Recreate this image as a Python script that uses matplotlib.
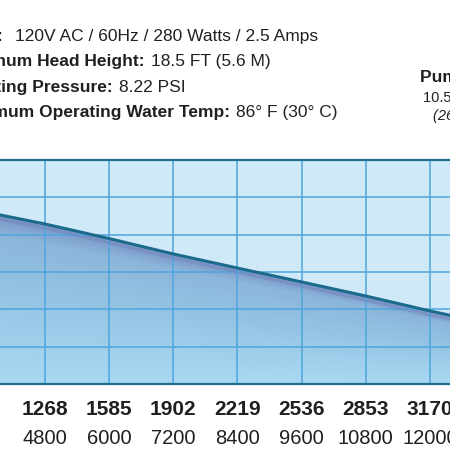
import numpy as np
import matplotlib
matplotlib.use('Agg')
import matplotlib.pyplot as plt
import matplotlib.patheffects as pe
from matplotlib.colors import LinearSegmentedColormap

# pump curve data (flow in GPH, head in feet)
gph = [951, 1268, 1585, 1902, 2219, 2536, 2853, 3170, 3487]
head_ft = [13.9, 12.86, 11.69, 10.45, 9.32, 8.20, 7.07, 5.87, 4.75]

tick_gph = ['1268', '1585', '1902', '2219', '2536', '2853', '3170']
tick_lph = ['4800', '6000', '7200', '8400', '9600', '10800', '12000']

specs_bold = ['Power:', 'Maximum Head Height:', 'Operating Pressure:', 'Maximum Operating Water Temp:']
specs_text = ['120V AC / 60Hz / 280 Watts / 2.5 Amps', '18.5 FT (5.6 M)', '8.22 PSI', '86° F (30° C)']

FONT = ['Liberation Sans', 'DejaVu Sans']
INK = '#231f20'

fig = plt.figure(figsize=(4.5, 4.5), dpi=100)
W = H = 450.0
ax = fig.add_axes([0, (H - 384) / H, 1, (384 - 160) / H])
ax.set_xlim(1046.7, 3269)
ax.set_ylim(0, 18)
ax.set_facecolor('#cfe9f9')

# gradient fill under the curve, darker just under the line
xs = np.linspace(1046.7, 3269, 400)
ys = np.linspace(0, 18, 400)
X, Y = np.meshgrid(xs, ys)
curve = np.interp(X, gph, head_ft)
t = np.clip((curve - Y) / curve, 0, 1)
cmap = LinearSegmentedColormap.from_list('shade', [(0, '#7a94c6'), (0.12, '#8cb6db'),
                                                   (0.5, '#95c6e5'), (1, '#a9d9f2')])
img = ax.imshow(t, cmap=cmap, origin='lower', extent=[1046.7, 3269, 0, 18],
                aspect='auto', zorder=1, vmin=0, vmax=1)
poly = ax.fill_between(gph, head_ft, 0, color='none', zorder=1)
img.set_clip_path(poly.get_paths()[0], transform=ax.transData)

# grid
for v in range(1268, 3171, 317):
    ax.axvline(v, color='#4ea6dc', lw=1.1, zorder=2)
for h in [3, 6, 9, 12, 15]:
    ax.axhline(h, color='#4ea6dc', lw=1.1, zorder=2)

ax.plot(gph, head_ft, color='#1c6a8c', lw=2.2, zorder=4,
        path_effects=[pe.SimpleLineShadow(offset=(0, -3), shadow_color='#6a78b0', alpha=0.3, rho=1),
                      pe.Normal()])

for s in ['left', 'right']:
    ax.spines[s].set_visible(False)
for s in ['top', 'bottom']:
    ax.spines[s].set_color('#1f6e8e')
    ax.spines[s].set_linewidth(1.6)
    ax.spines[s].set_zorder(5)
ax.set_xticks([])
ax.set_yticks([])

# axis labels under the grid
trans = ax.get_xaxis_transform()
for i, (g, l) in enumerate(zip(tick_gph, tick_lph)):
    xv = 1268 + 317 * i
    ax.text(xv, -(415 - 384) / 224, g, transform=trans, ha='center', va='baseline',
            fontsize=15, fontweight='bold', color=INK, family=FONT, clip_on=False)
    ax.text(xv, -(444 - 384) / 224, l, transform=trans, ha='center', va='baseline',
            fontsize=14.5, color=INK, family=FONT, clip_on=False)

# spec lines at top
bold_end = [4, 144, 113, 230]
text_start = [15, 151, 119, 236]
baselines = [41, 66, 92, 117]
for b, tx, be, ts, yb in zip(specs_bold, specs_text, bold_end, text_start, baselines):
    fig.text(be / W, 1 - yb / H, b, ha='right', va='baseline', fontsize=12.5,
             fontweight='bold', color=INK, family=FONT)
    fig.text(ts / W, 1 - yb / H, tx, ha='left', va='baseline', fontsize=12.5,
             color=INK, family=FONT)

# pump box on right (cut off)
fig.text(420 / W, 1 - 82 / H, 'Pump Curve', ha='left', va='baseline', fontsize=12.5,
         fontweight='bold', color=INK, family=FONT)
fig.text(423 / W, 1 - 102 / H, '10.5 FT', ha='left', va='baseline', fontsize=10.5,
         color=INK, family=FONT)
fig.text(433 / W, 1 - 120 / H, '(2650 LPH)', ha='left', va='baseline', fontsize=10.5,
         style='italic', color=INK, family=FONT)

fig.savefig('out.png', dpi=100)
